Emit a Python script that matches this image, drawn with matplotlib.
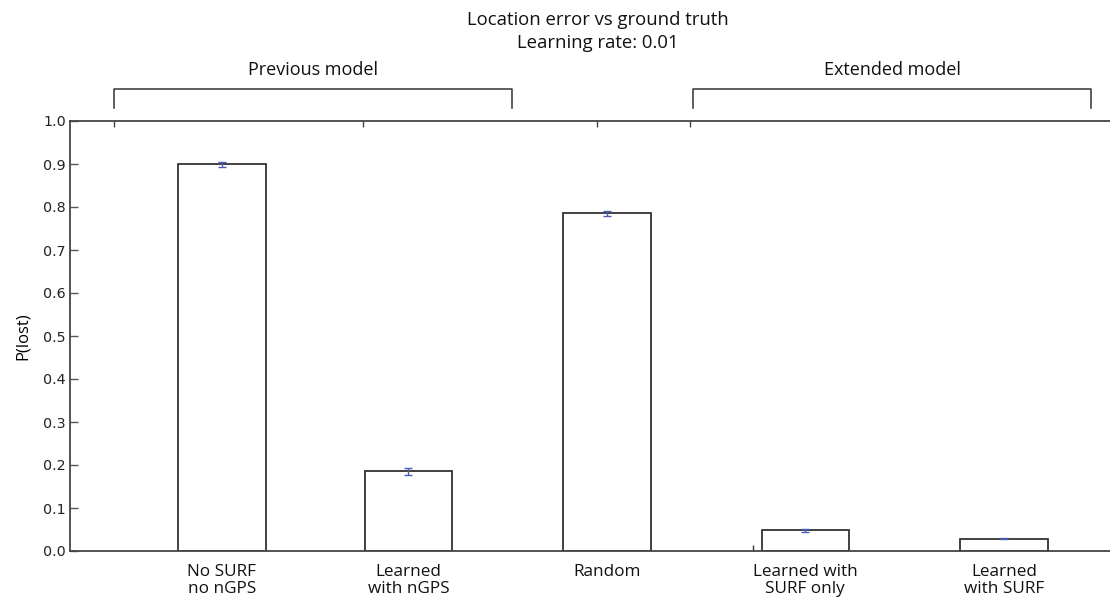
import matplotlib
matplotlib.use("Agg")
import matplotlib.pyplot as plt
import numpy as np

categories = ["No SURF\nno nGPS", "Learned\nwith nGPS", "Random", "Learned with\nSURF only", "Learned\nwith SURF"]
values = [0.899, 0.185, 0.785, 0.048, 0.029]
errors = [0.005, 0.008, 0.005, 0.003, 0.002]
yticks = [0.0, 0.1, 0.2, 0.3, 0.4, 0.5, 0.6, 0.7, 0.8, 0.9, 1.0]
groups = ["Previous model", "Extended model"]

# layout (positions in axis units)
xpos = [0.06, 1, 2, 3, 4]
group_spans = [(-0.485, 1.520), (2.434, 4.439)]
top_ticks = [-0.485, 0.769, 1.952, 2.419]

TXT = "Open Sans"
fig = plt.figure(figsize=(11.10, 5.99), dpi=100)
ax = fig.add_axes([70/1110, 48/599, 1045/1110, 430/599])

ax.bar(xpos, values, width=0.44, color="white", edgecolor="#333333", linewidth=1.3, zorder=2)
ax.errorbar(xpos, values, yerr=errors, fmt="none", ecolor="#4a5cb0", elinewidth=1.0,
            capsize=3, capthick=1.0, zorder=3)

ax.set_xlim(-0.705, 4.56)
ax.set_ylim(0, 1.0)
ax.set_yticks(yticks)
ax.set_yticklabels([f"{t:.1f}" for t in yticks], fontsize=10.3, color="#222222")
ax.set_xticks(xpos)
ax.set_xticklabels(categories, fontsize=12.3, family=TXT, color="#111111", linespacing=1.15)
ax.set_xticks([2.734], minor=True)
ax.tick_params(axis="x", which="major", length=0, pad=9)
ax.tick_params(axis="x", which="minor", direction="in", length=4, width=1, color="#333333")
ax.tick_params(axis="y", direction="in", length=6, width=1, color="#555555", pad=3)
for s in ["left", "top", "bottom"]:
    ax.spines[s].set_color("#444444")
    ax.spines[s].set_linewidth(1.3)
ax.spines["right"].set_visible(False)
ax.set_ylabel("P(lost)", fontsize=12, family=TXT, labelpad=9)

# top ticks
ax2 = ax.twiny()
ax2.set_xlim(ax.get_xlim())
ax2.set_xticks(top_ticks)
ax2.set_xticklabels([])
ax2.tick_params(axis="x", direction="in", length=4, width=1, color="#444444")
for s in ax2.spines.values():
    s.set_visible(False)

# brackets above axes
trans = ax.get_xaxis_transform()
for name, (a, b) in zip(groups, group_spans):
    ax.plot([a, a, b, b], [1.030, 1.0745, 1.0745, 1.030], transform=trans,
            color="#333333", linewidth=1.1, clip_on=False)
    ax.text((a + b) / 2, 1.097, name, transform=trans, ha="center", va="bottom",
            fontsize=13, family=TXT, color="#111111")

fig.text(598/1110, 1 - 20/599, "Location error vs ground truth", ha="center", va="center",
         fontsize=13.3, family=TXT, color="#111111")
fig.text(598/1110, 1 - 43/599, "Learning rate: 0.01", ha="center", va="center",
         fontsize=13.3, family=TXT, color="#111111")

fig.savefig("out.png", dpi=100, facecolor="white")
